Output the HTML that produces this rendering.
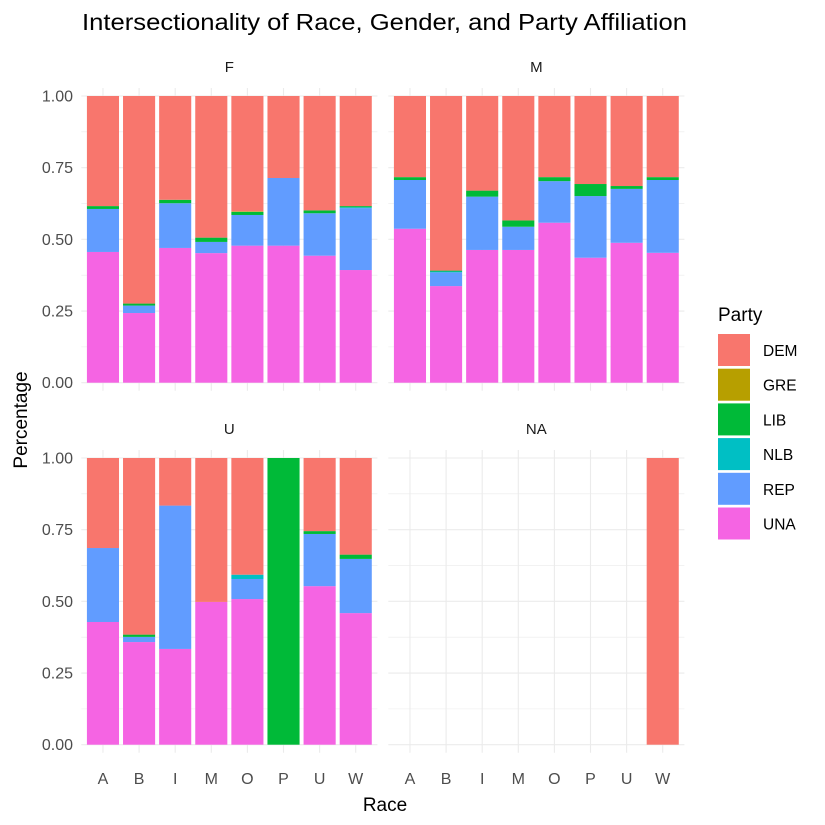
<!DOCTYPE html>
<html><head><meta charset="utf-8"><style>
html,body{margin:0;padding:0;background:#fff;}
svg{display:block;font-family:"Liberation Sans",Arial,sans-serif;}
</style></head><body>
<svg id="chart" width="825" height="825" viewBox="0 0 825 825">
<text x="82" y="30" font-size="23" textLength="605" lengthAdjust="spacingAndGlyphs" fill="#000">Intersectionality of Race, Gender, and Party Affiliation</text>
<text x="385" y="811" font-size="19" text-anchor="middle" fill="#000">Race</text>
<text x="0" y="0" font-size="19" text-anchor="middle" fill="#000" transform="translate(27,420) rotate(-90)">Percentage</text>
<g id="panels"></g>
<g id="legend"></g>
</svg>
<script>
const categories = ["A","B","I","M","O","P","U","W"];
const parties = ["DEM","GRE","LIB","NLB","REP","UNA"];
const colors = {DEM:"#F8766D",GRE:"#B79F00",LIB:"#00BA38",NLB:"#00BFC4",REP:"#619CFF",UNA:"#F564E3"};
const yTicks = [0,0.25,0.5,0.75,1];
const yTickLabels = ["0.00","0.25","0.50","0.75","1.00"];
const panelNames = ["F","M","U","NA"];
const F_UNA = [0.456,0.243,0.470,0.452,0.478,0.478,0.443,0.393];
const F_REP = [0.150,0.026,0.156,0.039,0.107,0.236,0.148,0.216];
const F_NLB = [0,0,0,0,0,0,0,0.003];
const F_LIB = [0.010,0.007,0.012,0.015,0.011,0,0.010,0.004];
const F_GRE = [0,0,0,0,0.002,0,0,0];
const M_UNA = [0.537,0.337,0.463,0.463,0.558,0.436,0.488,0.453];
const M_REP = [0.170,0.048,0.186,0.081,0.145,0.215,0.188,0.254];
const M_NLB = [0,0.003,0,0,0,0,0,0];
const M_LIB = [0.010,0.003,0.021,0.022,0.014,0.042,0.010,0.010];
const M_GRE = [0,0,0,0,0,0,0,0];
const U_UNA = [0.428,0.358,0.334,0.498,0.508,0,0.553,0.459];
const U_REP = [0.258,0.018,0.500,0,0.070,0,0.182,0.189];
const U_NLB = [0,0,0,0,0.015,0,0,0];
const U_LIB = [0,0.008,0,0,0,1,0.010,0.015];
const U_GRE = [0,0,0,0,0,0,0,0];
const NA_UNA = [0,0,0,0,0,0,0,0];
const NA_REP = [0,0,0,0,0,0,0,0];
const NA_NLB = [0,0,0,0,0,0,0,0];
const NA_LIB = [0,0,0,0,0,0,0,0];
const NA_GRE = [0,0,0,0,0,0,0,0];
const NA_DEM = [0,0,0,0,0,0,0,1];

const panelData = {
  F:{UNA:F_UNA,REP:F_REP,NLB:F_NLB,LIB:F_LIB,GRE:F_GRE},
  M:{UNA:M_UNA,REP:M_REP,NLB:M_NLB,LIB:M_LIB,GRE:M_GRE},
  U:{UNA:U_UNA,REP:U_REP,NLB:U_NLB,LIB:U_LIB,GRE:U_GRE},
  NA:{UNA:NA_UNA,REP:NA_REP,NLB:NA_NLB,LIB:NA_LIB,GRE:NA_GRE,DEM:NA_DEM}
};
const stackOrder = ["UNA","REP","NLB","LIB","GRE","DEM"];
const NS="http://www.w3.org/2000/svg";
function mk(tag,attrs,parent){const e=document.createElementNS(NS,tag);for(const k in attrs)e.setAttribute(k,attrs[k]);parent.appendChild(e);return e;}
const layout = {F:[81.3,96,377.4,382.7],M:[388.3,96,684.4,382.7],U:[81.3,458,377.4,744.7],NA:[388.3,458,684.4,744.7]};
const root=document.getElementById('panels');
panelNames.forEach((p,pi)=>{
  const [x0,y0,x1,y1]=layout[p];
  const unit=(x1-x0)/8.2;
  const xs=i=>x0+(i+1-0.4)*unit;
  const ys=v=>y1-v*(y1-y0)/1.0;
  const g=mk('g',{},root);
  
  
  for(let k=0;k<=8;k++){const v=k*0.125;const l=mk('line',{x1:x0,x2:x1,y1:ys(v),y2:ys(v),stroke:'#ebebeb','stroke-width':k%2?0.6:1.1},g);}
  categories.forEach((c,i)=>{const l=mk('line',{x1:xs(i),x2:xs(i),y1:y0-8,y2:y1+8,stroke:'#ebebeb','stroke-width':1.1},g);});
  const st=mk('text',{x:(x0+x1)/2,y:y0-24,'font-size':15,'text-anchor':'middle',fill:'#1a1a1a'},g);st.textContent=p;
  
  
  const d=panelData[p];
  categories.forEach((c,i)=>{
    let cum=0;
    stackOrder.forEach(party=>{
      let v;
      if(party==='DEM' && !d.DEM){let s=0;['UNA','REP','NLB','LIB','GRE'].forEach(q=>s+=d[q][i]);v=1-s;}
      else v=d[party]?d[party][i]:0;
      if(v<=0)return;
      const bw=unit*0.9-0.4;
      const r=mk('rect',{x:xs(i)-bw/2,y:ys(cum+v),width:bw,height:ys(cum)-ys(cum+v),fill:colors[party]},g);
      
      
      cum+=v;
    });
  });
  if(pi%2===0){yTicks.forEach((t,k)=>{const tx=mk('text',{x:73,y:ys(t)+5.5,'font-size':16,'text-anchor':'end',fill:'#4d4d4d'},g);tx.textContent=yTickLabels[k];});}
  if(pi>=2){categories.forEach((c,i)=>{const tx=mk('text',{x:xs(i),y:784,'font-size':16,'text-anchor':'middle',fill:'#4d4d4d'},g);tx.textContent=c;});}
});
const lg=document.getElementById('legend');
const lt=mk('text',{x:718,y:321,'font-size':19,fill:'#000'},lg);lt.textContent='Party';


parties.forEach((p,k)=>{
  const y=334+k*34.7;
  const g=mk('g',{},lg);
  
  
  mk('rect',{x:718,y:y,width:32,height:32,fill:colors[p]},g);
  const t=mk('text',{x:763,y:y+22,'font-size':15.5,fill:'#000'},g);t.textContent=p;
});
</script>
</body></html>
